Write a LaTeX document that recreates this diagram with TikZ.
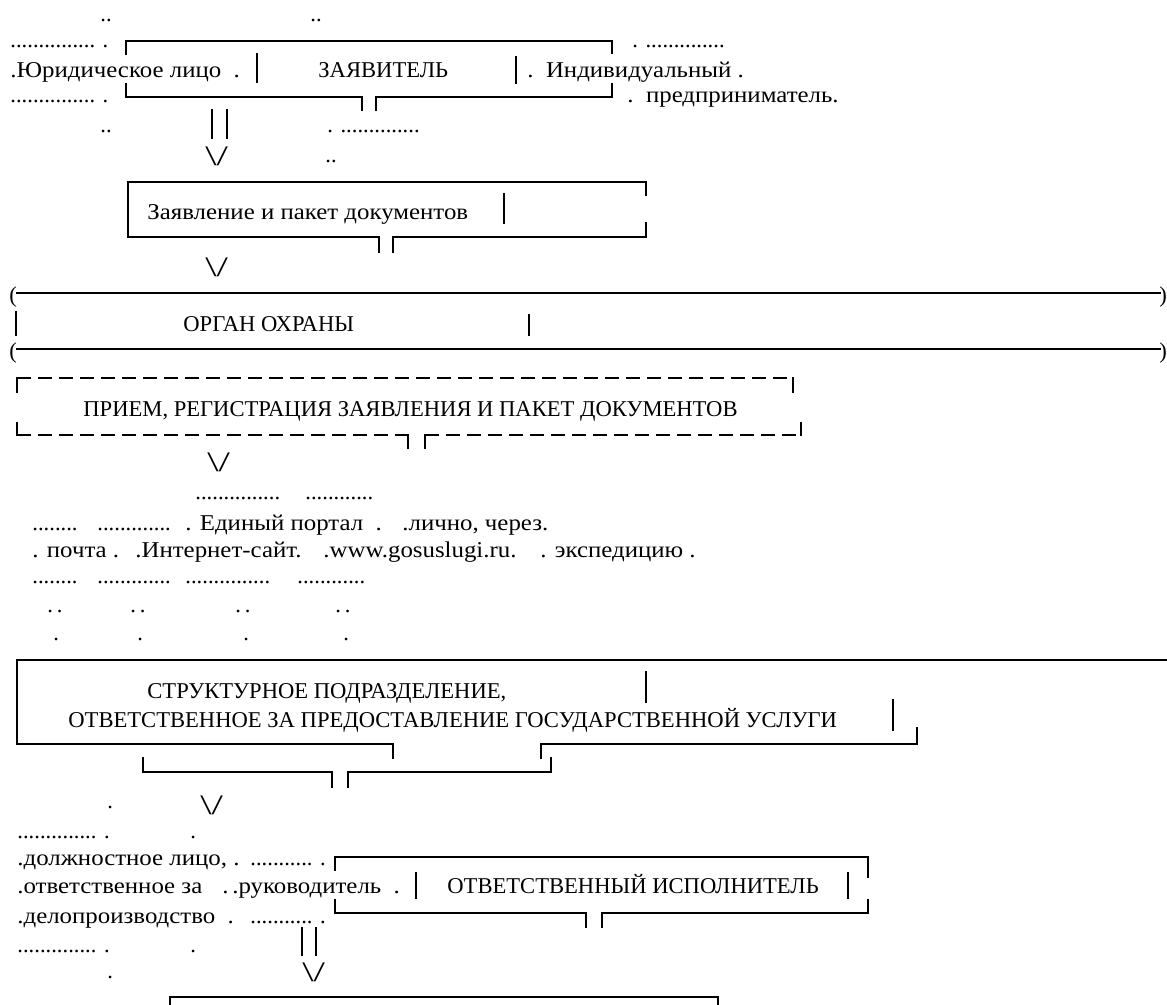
\documentclass[tikz,border=0pt]{standalone}
\usepackage{fontspec}
\usepackage{graphicx}
\setmainfont{Liberation Serif}
\newfontfamily\widefont{Liberation Serif}[FakeStretch=1.1]

\begin{document}
\begin{tikzpicture}[x=0.5pt, y=-0.5pt, line cap=rect, line join=miter]

		%======================
		% STYLES
		%======================
		\newcommand{\rowfont}{\fontsize{11.3pt}{13pt}\selectfont}
		\tikzset{
			lbl/.style={anchor=base west, inner sep=0pt, font=\rowfont},
			wlbl/.style={lbl, font={\widefont\rowfont}},
			dotrow/.style={lbl, text height=2pt, text depth=0pt},
			boxline/.style={line width=0.6pt},
			dashline/.style={boxline, line cap=butt, dash pattern=on 7pt off 3.5pt}
		}
		% Utility: vertical stroke at x from y1 to y2
		\newcommand{\vstroke}[3]{\draw[boxline] (#1,#2) -- (#1,#3);}
		% Utility: the "\/" sign
		\newcommand{\downsign}{\scalebox{1.8}[1.25]{\textbackslash/}}

		\useasboundingbox (0,0) rectangle (1167,1005);

		%----------------------
		% Applicant
		%----------------------
		\node[dotrow] (dA1) at (100,22) {..};
		\node[dotrow] (dA2) at (310,22) {..};
		\node[dotrow] (dB1) at (10,48) {............... .};
		\node[dotrow] (dB2) at (632,48) {. ..............};
		\node[wlbl] (jur) at (10,78) {.Юридическое лицо\ \ .};
		\node[lbl] (appl) at (318,78) {ЗАЯВИТЕЛЬ};
		\node[wlbl] (ip1) at (527,78) {.\ \ Индивидуальный .};
		\node[dotrow] (dD1) at (10,103) {............... .};
		\node[wlbl] (ip2) at (627,103) {.\ \ предприниматель.};
		\node[dotrow] (dE1) at (100,133) {..};
		\node[dotrow] (dE2) at (327,133) {. ..............};
		\node[dotrow] (dF1) at (325,163) {..};
		\vstroke{257}{54}{82}
		\vstroke{516}{57}{83}

		\draw[boxline] (126,54) -- (126,41) -- (612,41) -- (612,53);
		\draw[boxline] (126,84) -- (126,97) -- (362,97) -- (362,110);
		\draw[boxline] (376,110) -- (376,97) -- (612,97) -- (612,84);

		% double stroke and arrow
		\coordinate (s1a) at (212,110);
		\coordinate (s1b) at (212,138);
		\coordinate (s1c) at (227,110);
		\coordinate (s1d) at (227,138);
		\draw[boxline] (s1a) -- (s1b);
		\draw[boxline] (s1c) -- (s1d);
		\node[lbl] (arr1) at (205,166) {\downsign};

		%----------------------
		% Application
		%----------------------
		\node[wlbl] (appdoc) at (147,220) {Заявление и пакет документов};
		\vstroke{504}{194}{223}
		\draw[boxline] (646,195) -- (646,182) -- (128,182) -- (128,237) -- (379,237) -- (379,252);
		\draw[boxline] (393,252) -- (393,237) -- (646,237) -- (646,223);
		\node[lbl] (arr2) at (205,277) {\downsign};

		%----------------------
		% Authority
		%----------------------
		\node[lbl] (pl1) at (9,303) {(};
		\node[lbl] (pr1) at (1159,303) {)};
		\draw[boxline] (17,293) -- (1160,293);
		\node[lbl] (organ) at (183,332) {ОРГАН ОХРАНЫ};
		\vstroke{16}{312}{335}
		\vstroke{529}{315}{335}
		\node[lbl] (pl2) at (9,359) {(};
		\node[lbl] (pr2) at (1159,359) {)};
		\draw[boxline] (17,349) -- (1160,349);

		%----------------------
		% Reception (dashed)
		%----------------------
		\node[lbl] (recv) at (83,416) {ПРИЕМ, РЕГИСТРАЦИЯ ЗАЯВЛЕНИЯ И ПАКЕТ ДОКУМЕНТОВ};
		\draw[boxline] (17,392) -- (17,378);
		\draw[dashline] (17,378) -- (793,378);
		\draw[boxline] (793,378) -- (793,392);
		\draw[boxline] (17,423) -- (17,435);
		\draw[dashline] (17,435) -- (408,435);
		\draw[boxline] (408,435) -- (408,448);
		\draw[boxline] (425,448) -- (425,435);
		\draw[dashline] (425,435) -- (801,435);
		\draw[boxline] (801,435) -- (801,423);
		\node[lbl] (arr3) at (207,472) {\downsign};

		%----------------------
		% Channels
		%----------------------
		\node[dotrow] (dL1) at (195,499) {...............};
		\node[dotrow] (dL2) at (305,499) {............};
		\node[dotrow] (dM1) at (32,530) {........};
		\node[dotrow] (dM2) at (97,530) {.............};
		\node[wlbl] (portal) at (185,530) {. Единый портал\ \ .};
		\node[wlbl] (self1) at (402,530) {.лично, через.};
		\node[wlbl] (post) at (32,557) {. почта .};
		\node[wlbl] (site) at (135,557) {.Интернет-сайт.};
		\node[wlbl] (gos) at (323,557) {.www.gosuslugi.ru.};
		\node[wlbl] (self2) at (540,557) {. экспедицию .};
		\node[dotrow] (dO1) at (32,583) {........};
		\node[dotrow] (dO2) at (97,583) {.............};
		\node[dotrow] (dO3) at (185,583) {...............};
		\node[dotrow] (dO4) at (297,583) {............};
		\foreach \px/\nm in {47/a,130/b,235/c,335/d}
			\node[dotrow] (dP\nm) at (\px,612) {.\,.};
		\foreach \px/\nm in {53/a,137/b,243/c,343/d}
			\node[dotrow] (dQ\nm) at (\px,640) {.};

		%----------------------
		% Structural unit
		%----------------------
		\node[lbl] (unit1) at (147,698) {СТРУКТУРНОЕ ПОДРАЗДЕЛЕНИЕ,};
		\node[lbl] (unit2) at (68,727) {ОТВЕТСТВЕННОЕ ЗА ПРЕДОСТАВЛЕНИЕ ГОСУДАРСТВЕННОЙ УСЛУГИ};
		\vstroke{646}{672}{702}
		\vstroke{893}{700}{730}
		\draw[boxline] (1170,660) -- (17,660) -- (17,744) -- (393,744) -- (393,758);
		\draw[boxline] (541,758) -- (541,744) -- (917,744) -- (917,728);
		\draw[boxline] (143,758) -- (143,772) -- (332,772) -- (332,787);
		\draw[boxline] (348,787) -- (348,772) -- (551,772) -- (551,758);
		\node[dotrow] (dT1) at (107,808) {.};
		\node[lbl] (arr4) at (200,814) {\downsign};

		%----------------------
		% Executor
		%----------------------
		\node[dotrow] (dU1) at (17,838) {.............. .};
		\node[dotrow] (dU2) at (190,838) {.};
		\node[wlbl] (clerk1) at (17,865) {.должностное лицо, .};
		\node[dotrow] (dV1) at (250,865) {........... .};
		\node[wlbl] (clerk2) at (17,893) {.ответственное за};
		\node[wlbl] (head) at (222,893) {.\,.руководитель\ \ .};
		\node[wlbl] (clerk3) at (17,923) {.делопроизводство\ \ .};
		\node[dotrow] (dX1) at (250,923) {........... .};
		\node[dotrow] (dY1) at (17,952) {.............. .};
		\node[dotrow] (dY2) at (190,952) {.};
		\node[dotrow] (dZ1) at (107,978) {.};
		\node[lbl] (exec) at (447,893) {ОТВЕТСТВЕННЫЙ ИСПОЛНИТЕЛЬ};
		\vstroke{416}{873}{898}
		\vstroke{848}{873}{898}
		\draw[boxline] (335,870) -- (335,857) -- (868,857) -- (868,877);
		\draw[boxline] (335,900) -- (335,913) -- (586,913) -- (586,927);
		\draw[boxline] (602,927) -- (602,913) -- (868,913) -- (868,900);

		\coordinate (s2a) at (302,928);
		\coordinate (s2b) at (302,955);
		\coordinate (s2c) at (316,928);
		\coordinate (s2d) at (316,955);
		\draw[boxline] (s2a) -- (s2b);
		\draw[boxline] (s2c) -- (s2d);
		\node[lbl] (arr5) at (302,981) {\downsign};

		% last box (cut by the page)
		\draw[boxline] (170,1012) -- (170,997) -- (718,997) -- (718,1012);

	\end{tikzpicture}
\end{document}
